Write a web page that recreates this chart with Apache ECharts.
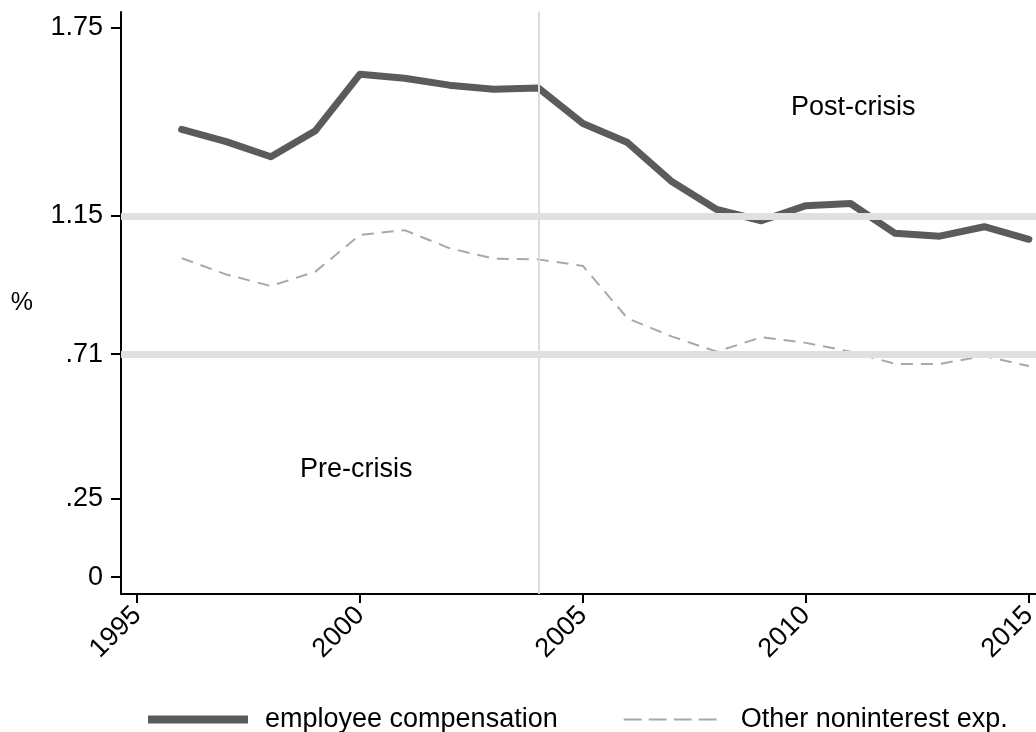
<!DOCTYPE html>
<html>
<head>
<meta charset="utf-8">
<script src="https://cdn.jsdelivr.net/npm/echarts@6/dist/echarts.min.js"></script>
<style>
  html, body { margin: 0; padding: 0; background: #fff; }
  #main { width: 1036px; height: 732px; }
</style>
</head>
<body>
<div id="main"></div>
<script>
// data
var years = [1996, 1997, 1998, 1999, 2000, 2001, 2002, 2003, 2004, 2005,
             2006, 2007, 2008, 2009, 2010, 2011, 2012, 2013, 2014, 2015];
var employeeComp = [1.426, 1.387, 1.339, 1.422, 1.602, 1.589, 1.567, 1.554, 1.558, 1.445,
                    1.384, 1.259, 1.171, 1.135, 1.183, 1.190, 1.095, 1.086, 1.116, 1.076];
var otherNonint = [1.016, 0.964, 0.927, 0.973, 1.090, 1.105, 1.048, 1.014, 1.012, 0.991,
                   0.824, 0.766, 0.718, 0.764, 0.746, 0.718, 0.679, 0.679, 0.704, 0.672];
var yTicks = [0, 0.25, 0.71, 1.15, 1.75];
var yTickLabels = ['0', '.25', '.71', '1.15', '1.75'];
var xTicks = [1995, 2000, 2005, 2010, 2015];
var refLevels = [0.71, 1.15];   // pre / post crisis averages
var crisisYear = 2004;

var font = '"Liberation Sans", Arial, sans-serif';
var fs = 27;

function pairs(vals) {
    var out = [];
    for (var i = 0; i < years.length; i++) out.push([years[i], vals[i]]);
    return out;
}

var chart = echarts.init(document.getElementById('main'));

var option = {
    animation: false,
    backgroundColor: '#fff',
    textStyle: { fontFamily: font, color: '#000' },
    grid: { left: 121, right: 0, top: 12, bottom: 138, containLabel: false, outerBoundsMode: 'none' },
    xAxis: {
        type: 'value',
        min: 1994.64,
        max: 2015.16,
        axisLine: { onZero: false, lineStyle: { color: '#000', width: 2 } },
        axisTick: { show: true, length: 9, customValues: xTicks, lineStyle: { color: '#000', width: 2 } },
        axisLabel: {
            customValues: xTicks,
            rotate: 45,
            margin: 17,
            fontSize: fs,
            color: '#000',
            fontFamily: font,
            formatter: function (v) { return String(v); }
        },
        splitLine: { show: false }
    },
    yAxis: {
        type: 'value',
        min: -0.054,
        max: 1.80,
        name: '%',
        nameLocation: 'middle',
        nameRotate: 0,
        nameGap: 88,
        nameTextStyle: { fontSize: fs - 2, color: '#000', fontFamily: font },
        axisLine: { show: true, onZero: false, lineStyle: { color: '#000', width: 2 } },
        axisTick: { show: true, length: 10, customValues: yTicks, lineStyle: { color: '#000', width: 2 } },
        axisLabel: {
            customValues: yTicks,
            margin: 18,
            fontSize: fs,
            color: '#000',
            fontFamily: font,
            formatter: function (v) {
                for (var i = 0; i < yTicks.length; i++) {
                    if (Math.abs(yTicks[i] - v) < 1e-6) return yTickLabels[i];
                }
                return '';
            }
        },
        splitLine: { show: false }
    },
    legend: {
        top: 706,
        left: 144,
        padding: 0,
        itemWidth: 100,
        itemHeight: 12,
        itemGap: 65,
        itemStyle: { opacity: 0 },
        textStyle: { fontSize: fs, color: '#000', fontFamily: font, padding: [0, 0, 0, 12] },
        data: [
            { name: 'employee compensation', lineStyle: { width: 8, color: '#5b5b5b', cap: 'butt' } },
            { name: 'Other noninterest exp.', lineStyle: { width: 2, color: '#a8a8a8', type: [18, 7], cap: 'butt' } }
        ]
    },
    graphic: [
        { type: 'text', x: 791, y: 108, style: { text: 'Post-crisis', font: fs + 'px ' + font, fill: '#000', verticalAlign: 'middle' } },
        { type: 'text', x: 300, y: 470, style: { text: 'Pre-crisis', font: fs + 'px ' + font, fill: '#000', verticalAlign: 'middle' } }
    ],
    series: [
        {
            // reference lines only
            name: 'ref',
            type: 'line',
            data: [],
            z: 1,
            silent: true,
            markLine: {
                silent: true,
                symbol: ['none', 'none'],
                label: { show: false },
                data: [
                    { xAxis: crisisYear, lineStyle: { color: '#dcdcdc', width: 2, type: 'solid' } },
                    { yAxis: refLevels[0], lineStyle: { color: '#e0e0e0', width: 7, type: 'solid' } },
                    { yAxis: refLevels[1], lineStyle: { color: '#e0e0e0', width: 7, type: 'solid' } }
                ]
            }
        },
        {
            name: 'employee compensation',
            type: 'line',
            data: pairs(employeeComp),
            showSymbol: false,
            symbol: 'none',
            z: 3,
            color: '#5b5b5b',
            lineStyle: { color: '#5b5b5b', width: 7, cap: 'round', join: 'round' }
        },
        {
            name: 'Other noninterest exp.',
            type: 'line',
            data: pairs(otherNonint),
            showSymbol: false,
            symbol: 'none',
            z: 3,
            color: '#a8a8a8',
            lineStyle: { color: '#a8a8a8', width: 2, type: [12, 8] }
        }
    ]
};

chart.setOption(option);
</script>
</body>
</html>
